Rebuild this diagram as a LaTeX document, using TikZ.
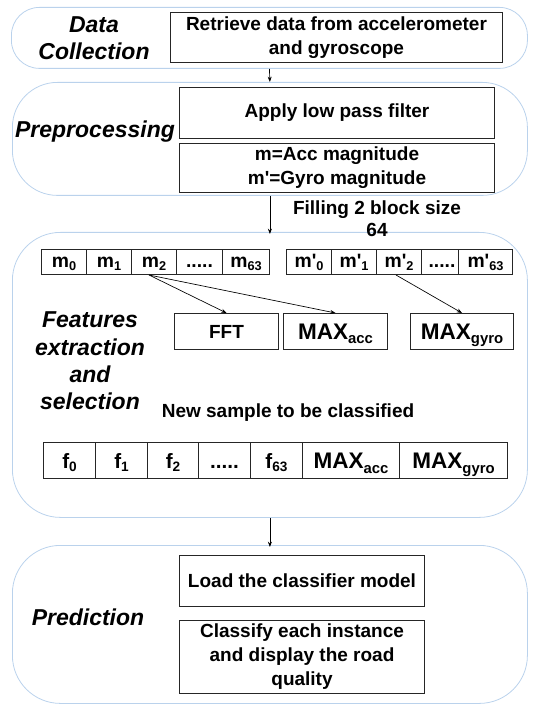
\documentclass[tikz,border=0pt]{standalone}
\usepackage{fontspec}
\setmainfont{Liberation Sans}
\usetikzlibrary{arrows.meta}
\definecolor{stageblue}{RGB}{186,210,236}
\newdimen\px \px=0.75pt
\newcommand{\sbs}[1]{\smash{\raisebox{-0.35ex}{\scalebox{0.66}{#1}}}}
\newcommand{\apo}{\textquotesingle}
\tikzset{
  stagebox/.style={draw=stageblue, line width=0.6pt, rounded corners=#1, anchor=north west, inner sep=0pt},
  box/.style={draw=black!85, line width=0.75pt, fill=white, inner sep=0pt, align=center, anchor=north west,
              font=\fontsize{14.25}{18}\selectfont\bfseries},
  cell/.style={draw=black!85, line width=0.75pt, fill=white, inner sep=0pt, anchor=north west,
               minimum height=25\px, text height=7.6pt, text depth=0pt, font=\fontsize{14.5}{16}\selectfont\bfseries},
  fcell/.style={draw=black!85, line width=0.75pt, fill=white, inner sep=0pt, anchor=north west,
               minimum height=36\px, text height=11.5pt, text depth=0pt, font=\fontsize{15.5}{17}\selectfont\bfseries},
  bigmax/.style={font=\fontsize{16.9}{18}\selectfont\bfseries},
  stagelabel/.style={align=center, inner sep=0pt, font=\fontsize{17.25}{20.5}\selectfont\bfseries\itshape},
  plain/.style={align=center, inner sep=0pt, font=\fontsize{14.25}{16.5}\selectfont\bfseries},
  conn/.style={line width=0.5pt, -{Stealth[length=4pt,width=3pt]}}
}
\begin{document}
\begin{tikzpicture}[x=0.75pt,y=-0.75pt]
\useasboundingbox (0,0) rectangle (534,705);
% stages
\node[stagebox=28\px, minimum width=516\px, minimum height=61\px] (s1) at (11,7) {};
\node[stagebox=45\px, minimum width=515\px, minimum height=113\px] (s2) at (12,82) {};
\node[stagebox=48\px, minimum width=515\px, minimum height=285\px] (s3) at (12,232) {};
\node[stagebox=48\px, minimum width=515\px, minimum height=158\px] (s4) at (12,545) {};
% stage labels
\node[stagelabel] (l1) at (94,38) {Data\\Collection};
\node[stagelabel] (l2) at (95,132) {Preprocessing};
\node[stagelabel] (l3) at (90,361) {Features\\extraction\\and\\selection};
\node[stagelabel] (l4) at (88,617) {Prediction};
% stage 1
\node[box, minimum width=332\px, minimum height=50\px] (ret) at (170,12) {Retrieve data from accelerometer\\and gyroscope};
% stage 2
\node[box, minimum width=315\px, minimum height=51\px] (lpf) at (179,87) {\raisebox{5\px}{Apply low pass filter}};
\node[box, minimum width=315\px, minimum height=49\px] (mag) at (179,143) {m=Acc magnitude\\m\apo=Gyro magnitude};
\node[plain] (fill) at (377,219) {Filling 2 block size\\64};
% stage 3 m cells
\node[cell, minimum width=45\px] (m0) at (41,249) {m\sbs{0}};
\node[cell, minimum width=45\px] (m1) at (86,249) {m\sbs{1}};
\node[cell, minimum width=45\px] (m2) at (131,249) {m\sbs{2}};
\node[cell, minimum width=46\px] (md) at (176,249) {.....};
\node[cell, minimum width=47\px] (m63) at (222,249) {m\sbs{63}};
\node[cell, minimum width=45\px] (mp0) at (286,249) {m\apo\sbs{0}};
\node[cell, minimum width=45\px] (mp1) at (331,249) {m\apo\sbs{1}};
\node[cell, minimum width=45\px] (mp2) at (376,249) {m\apo\sbs{2}};
\node[cell, minimum width=37\px] (mpd) at (421,249) {\hspace*{4\px}.....};
\node[cell, minimum width=54\px] (mp63) at (458,249) {m\apo\sbs{63}};
% feature boxes
\node[box, minimum width=104\px, minimum height=36\px] (fft) at (174,313) {FFT};
\node[box, bigmax, minimum width=104\px, minimum height=36\px] (maxa) at (283,313) {MAX\sbs{acc}};
\node[box, bigmax, minimum width=103\px, minimum height=36\px] (maxg) at (410,313) {MAX\sbs{gyro}};
\draw[conn] ([xshift=-5\px]m2.south) -- (fft.north);
\draw[conn] ([xshift=-5\px]m2.south) -- (maxa.north);
\draw[conn] ([xshift=-3\px]mp2.south) -- (maxg.north);
% new sample
\node[plain] (ns) at (288,413) {New sample to be classified};
\node[fcell, minimum width=52\px] (f0) at (43,442) {f\sbs{0}};
\node[fcell, minimum width=52\px] (f1) at (95,442) {f\sbs{1}};
\node[fcell, minimum width=51\px] (f2) at (147,442) {f\sbs{2}};
\node[fcell, minimum width=52\px] (fd) at (198,442) {.....};
\node[fcell, minimum width=52\px] (f63) at (250,442) {f\sbs{63}};
\node[fcell, bigmax, minimum width=97\px, text height=12.5pt] (fma) at (302,442) {MAX\sbs{acc}};
\node[fcell, bigmax, minimum width=108\px, text height=12.5pt] (fmg) at (399,442) {MAX\sbs{gyro}};
% stage 4
\node[box, minimum width=245\px, minimum height=51\px] (load) at (179,555) {Load the classifier model};
\node[box, minimum width=245\px, minimum height=73\px] (cls) at (179,620) {Classify each instance\\and display the road\\quality};
% connectors between stages
\draw[conn] (s1.south) -- (s2.north);
\draw[conn] (s2.south) -- ([yshift=-2\px]s3.north);
\draw[conn] (s3.south) -- ([yshift=-2\px]s4.north);
\end{tikzpicture}
\end{document}
